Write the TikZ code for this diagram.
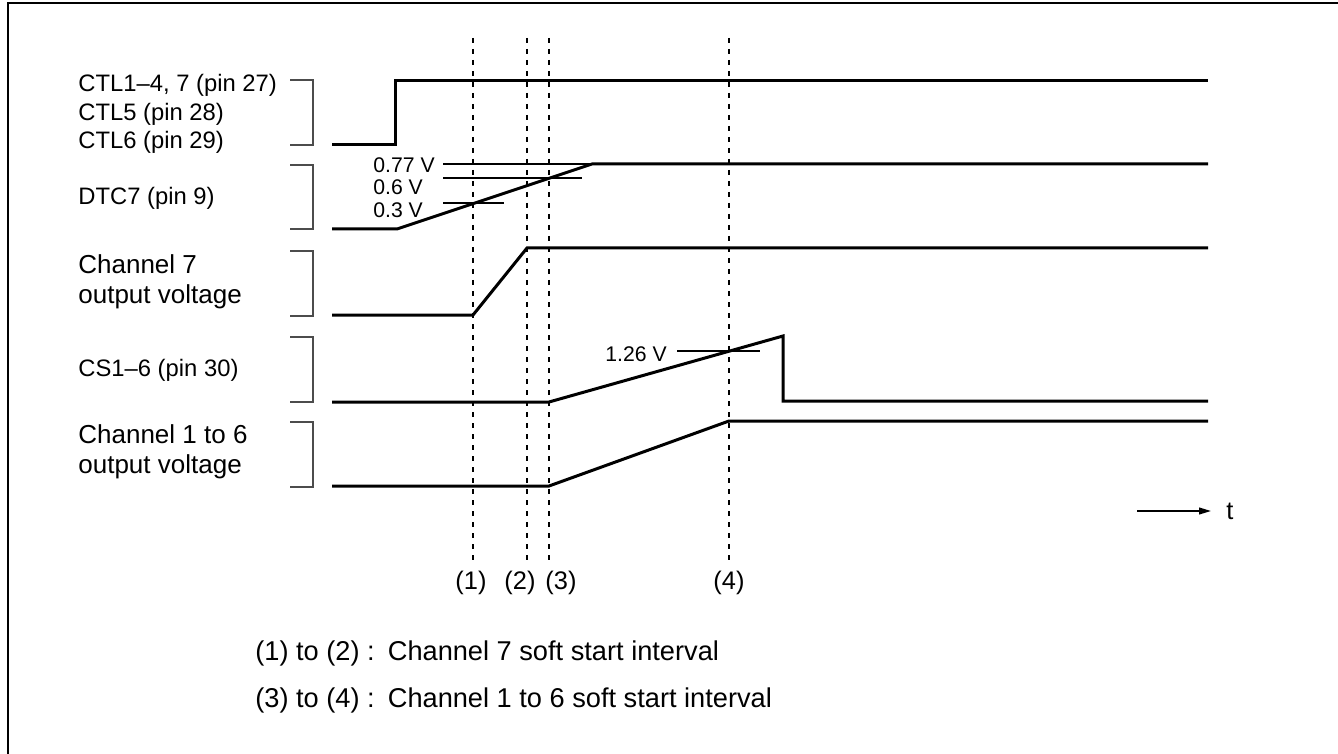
\documentclass[tikz,border=0pt]{standalone}
\usepackage{fontspec}
\setmainfont{Liberation Sans}
\usetikzlibrary{arrows.meta}

\begin{document}
\begin{tikzpicture}[
    x=0.5pt, y=-0.5pt,
    sig/.style={line width=1.5pt, line join=miter},
    brk/.style={draw=black!70, line width=0.6pt},
    lvl/.style={line width=0.55pt},
    marker/.style={line width=0.65pt, dash pattern=on 2.5pt off 3pt},
    signame/.style={anchor=west, align=left, inner sep=0pt, font=\fontsize{11.9}{14.3}\selectfont},
    chname/.style={anchor=west, align=left, inner sep=0pt, font=\fontsize{13}{15}\selectfont},
    volt/.style={anchor=west, inner sep=0pt, font=\fontsize{10.6}{12}\selectfont},
    tick/.style={inner sep=0pt, font=\fontsize{12.7}{14}\selectfont},
    note/.style={anchor=west, inner sep=0pt, font=\fontsize{13.6}{16}\selectfont},
]
\useasboundingbox (0,0) rectangle (1338,754);

% === FRAME ===
\draw[line width=1.4pt] (8,754) -- (8,3) -- (1338,3);

% === TIME MARKERS ===
\coordinate (m1) at (473,38);
\coordinate (m2) at (527,38);
\coordinate (m3) at (549,38);
\coordinate (m4) at (729,38);
\foreach \m in {m1,m2,m3,m4}
    \draw[marker] (\m) -- ++(0,524);

\node[tick] (t1) at (471,583) {(1)};
\node[tick] (t2) at (520,583) {(2)};
\node[tick] (t3) at (561,583) {(3)};
\node[tick] (t4) at (729,583) {(4)};

% === SIGNAL NAMES ===
\node[signame] (ctl) at (78,114) {CTL1--4, 7 (pin 27)\\CTL5 (pin 28)\\CTL6 (pin 29)};
\node[signame] (dtc) at (78,198) {DTC7 (pin 9)};
\node[chname] (ch7) at (78,282) {Channel 7\\output voltage};
\node[signame] (cs) at (78,370) {CS1--6 (pin 30)};
\node[chname] (ch16) at (78,452) {Channel 1 to 6\\output voltage};

% === BRACKETS ===
\foreach \top/\bot in {80/145, 165/229, 251/316, 337/402, 422/487}
    \draw[brk] (290,\top) -- (313,\top) -- (313,\bot) -- (290,\bot);

% === WAVEFORMS ===
\draw[sig] (332,145) -- (395,145) -- (395,81) -- (1208,81);
\draw[sig] (332,229) -- (397,229) -- (592,164) -- (1208,164);
\draw[sig] (332,315) -- (473,315) -- (527,248) -- (1208,248);
\draw[sig] (332,402) -- (549,402) -- (783,336) -- (783,401) -- (1208,401);
\draw[sig] (332,486) -- (549,486) -- (729,421) -- (1208,421);

% === LEVELS ===
\draw[lvl] (443,164) -- (592,164);
\draw[lvl] (443,178) -- (582,178);
\draw[lvl] (443,203) -- (504,203);
\draw[lvl] (677,351) -- (760,351);
\node[volt] (v077) at (373,165) {0.77 V};
\node[volt] (v06) at (373,187) {0.6 V};
\node[volt] (v03) at (373,210) {0.3 V};
\node[volt] (v126) at (605,354) {1.26 V};

% === TIME AXIS ===
\coordinate (ta) at (1137,511);
\coordinate (tb) at (1211,511);
\draw[line width=0.8pt, -{Triangle[length=6pt, width=3.4pt]}] (ta) -- (tb);
\node[tick, anchor=west] (tlab) at (1226,511) {t};

% === NOTES ===
\node[note] (n1) at (255,653) {(1) to (2) :\hspace{1.5pt} Channel 7 soft start interval};
\node[note] (n2) at (255,700) {(3) to (4) :\hspace{1.5pt} Channel 1 to 6 soft start interval};

\end{tikzpicture}
\end{document}
